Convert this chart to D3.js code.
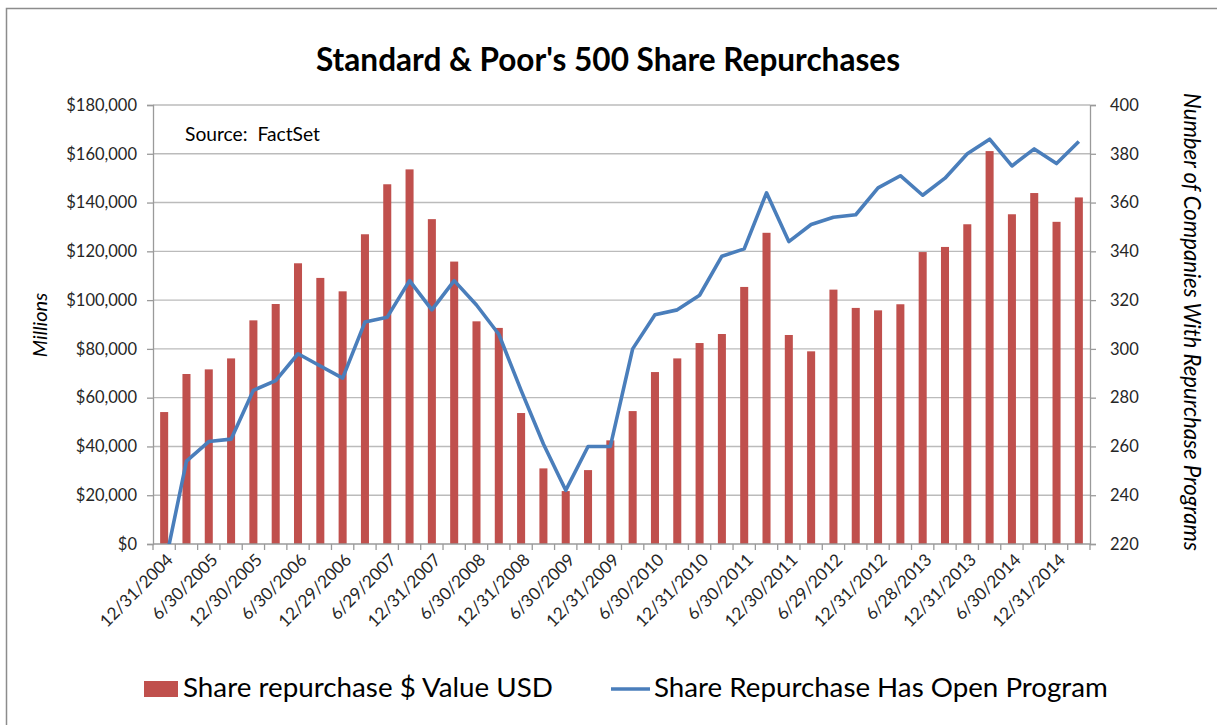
<!DOCTYPE html>
<html>
<head>
<meta charset="utf-8">
<script src="https://cdn.jsdelivr.net/npm/d3@7"></script>
<style>
  html, body { margin: 0; padding: 0; background: #fff; }
  svg { display: block; font-family: Lato, "Open Sans", sans-serif; }
</style>
</head>
<body>
<svg id="chart" width="1217" height="725"></svg>
<script>
// ---------- data ----------
const categories = [
  "12/31/2004","3/31/2005","6/30/2005","9/30/2005","12/30/2005","3/31/2006","6/30/2006","9/29/2006",
  "12/29/2006","3/30/2007","6/29/2007","9/28/2007","12/31/2007","3/31/2008","6/30/2008","9/30/2008",
  "12/31/2008","3/31/2009","6/30/2009","9/30/2009","12/31/2009","3/31/2010","6/30/2010","9/30/2010",
  "12/31/2010","3/31/2011","6/30/2011","9/30/2011","12/30/2011","3/30/2012","6/29/2012","9/28/2012",
  "12/31/2012","3/28/2013","6/28/2013","9/30/2013","12/31/2013","3/31/2014","6/30/2014","9/30/2014",
  "12/31/2014","3/31/2015"
];
const tickLabels = [
  "12/31/2004","6/30/2005","12/30/2005","6/30/2006","12/29/2006","6/29/2007","12/31/2007",
  "6/30/2008","12/31/2008","6/30/2009","12/31/2009","6/30/2010","12/31/2010","6/30/2011",
  "12/30/2011","6/29/2012","12/31/2012","6/28/2013","12/31/2013","6/30/2014","12/31/2014"
];
// Share repurchase $ value, USD millions
const repurchaseValue = [
  54100, 69700, 71600, 76100, 91700, 98400, 115100, 109100,
  103600, 127000, 147500, 153600, 133200, 115800, 91300, 88600,
  53700, 31000, 21700, 30300, 42500, 54500, 70500, 76100,
  82400, 86100, 105400, 127600, 85700, 79000, 104300, 96800,
  95800, 98300, 119700, 121800, 131100, 161100, 135200, 143900,
  132100, 142100
];
// Number of companies with an open repurchase program
const openPrograms = [
  210, 254, 262, 263, 283, 287, 298, 293,
  288, 311, 313, 328, 316, 328, 318, 306,
  283, 261, 242, 260, 260, 300, 314, 316,
  322, 338, 341, 364, 344, 351, 354, 355,
  366, 371, 363, 370, 380, 386, 375, 382,
  376, 385
];
const leftTicks = [0, 20000, 40000, 60000, 80000, 100000, 120000, 140000, 160000, 180000];
const rightTicks = [220, 240, 260, 280, 300, 320, 340, 360, 380, 400];

const titleText = "Standard & Poor's 500 Share Repurchases";
const barName = "Share repurchase $ Value USD";
const lineName = "Share Repurchase Has Open Program";

// ---------- layout ----------
const svg = d3.select("#chart");
const plot = { left: 153, right: 1090, top: 105, bottom: 544 };
const barColor = "#C0504D";
const lineColor = "#4A7EBB";
const gridColor = "#BBBBBB";
const axisColor = "#9A9A9A";
const textColor = "#262626";

function fitText(sel, target) {
  const node = sel.node();
  const fs = parseFloat(sel.attr("font-size"));
  const w = node.getComputedTextLength();
  sel.attr("font-size", (fs * target / w).toFixed(2));
  return sel;
}

// outer border
svg.append("rect").attr("x", 6.5).attr("y", 8.5).attr("width", 1230).attr("height", 730)
  .attr("fill", "none").attr("stroke", "#8C8C8C").attr("stroke-width", 1.5);

const x = d3.scaleBand().domain(categories)
  .range([plot.left, plot.right]).paddingInner(0.64).paddingOuter(0.32);
const step = x.step();
const yL = d3.scaleLinear().domain([0, 180000]).range([plot.bottom, plot.top]);
const yR = d3.scaleLinear().domain([220, 400]).range([plot.bottom, plot.top]);

// gridlines
svg.append("g").selectAll("line").data(leftTicks.slice(1)).join("line")
  .attr("x1", plot.left).attr("x2", plot.right)
  .attr("y1", d => yL(d)).attr("y2", d => yL(d))
  .attr("stroke", gridColor).attr("stroke-width", 1.4);

// bars
svg.append("g").selectAll("rect").data(repurchaseValue).join("rect")
  .attr("x", (d, i) => x(categories[i]))
  .attr("width", x.bandwidth())
  .attr("y", d => yL(d))
  .attr("height", d => yL(0) - yL(d))
  .attr("fill", barColor);

// left axis
const leftAxis = d3.axisLeft(yL).tickValues(leftTicks).tickSize(6).tickPadding(10)
  .tickFormat(d => "$" + d3.format(",")(d));
const gL = svg.append("g").attr("transform", `translate(${plot.left},0)`).call(leftAxis);
gL.select(".domain").attr("stroke", axisColor).attr("stroke-width", 1.3);
gL.selectAll(".tick line").attr("stroke", axisColor).attr("stroke-width", 1.3);
gL.selectAll(".tick text").attr("font-size", 16.5).attr("fill", textColor)
  .attr("font-family", "Lato, sans-serif");

// right axis
const rightAxis = d3.axisRight(yR).tickValues(rightTicks).tickSize(6).tickPadding(14);
const gR = svg.append("g").attr("transform", `translate(${plot.right},0)`).call(rightAxis);
gR.select(".domain").attr("stroke", axisColor).attr("stroke-width", 1.3);
gR.selectAll(".tick line").attr("stroke", axisColor).attr("stroke-width", 1.3);
gR.selectAll(".tick text").attr("font-size", 16.5).attr("fill", textColor)
  .attr("font-family", "Lato, sans-serif");

// bottom axis: tick marks between categories
const boundaries = d3.range(categories.length + 1).map(i => plot.left + i * step);
const gB = svg.append("g");
gB.append("line").attr("x1", plot.left).attr("x2", plot.right)
  .attr("y1", plot.bottom).attr("y2", plot.bottom)
  .attr("stroke", axisColor).attr("stroke-width", 1.3);
gB.selectAll("line.tk").data(boundaries).join("line").attr("class", "tk")
  .attr("x1", d => d).attr("x2", d => d)
  .attr("y1", plot.bottom).attr("y2", plot.bottom + 6)
  .attr("stroke", axisColor).attr("stroke-width", 1.3);
const xLabels = gB.selectAll("text").data(tickLabels).join("text")
  .attr("transform", d => `translate(${x(d) + x.bandwidth() / 2 + 10},${plot.bottom + 17}) rotate(-45)`)
  .attr("text-anchor", "end").attr("font-size", 16).attr("fill", textColor)
  .text(d => d);
{
  const w = xLabels.filter((d, i) => i === 0).node().getComputedTextLength();
  xLabels.attr("font-size", (16 * 95 / w).toFixed(2));
}

// line series, clipped to plot area
svg.append("clipPath").attr("id", "plotclip").append("rect")
  .attr("x", plot.left).attr("y", plot.top - 5)
  .attr("width", plot.right - plot.left).attr("height", plot.bottom - plot.top + 5);
const line = d3.line()
  .x((d, i) => x(categories[i]) + x.bandwidth() / 2)
  .y(d => yR(d));
svg.append("path").datum(openPrograms)
  .attr("clip-path", "url(#plotclip)")
  .attr("d", line).attr("fill", "none")
  .attr("stroke", lineColor).attr("stroke-width", 3.6)
  .attr("stroke-linejoin", "round");

// title
fitText(svg.append("text").attr("x", 608).attr("y", 71).attr("text-anchor", "middle")
  .attr("font-weight", "bold").attr("font-size", 30).attr("fill", "#000")
  .text(titleText), 584);

// source note
fitText(svg.append("text").attr("x", 185).attr("y", 141)
  .attr("font-size", 17).attr("fill", "#000").attr("xml:space", "preserve")
  .style("white-space", "pre")
  .text("Source:  FactSet"), 135);

// axis titles
svg.append("text").attr("transform", "translate(47,325) rotate(-90)")
  .attr("text-anchor", "middle").attr("font-style", "italic")
  .attr("font-size", 20).attr("fill", "#000").text("Millions");
fitText(svg.append("text").attr("transform", "translate(1184,322) rotate(90)")
  .attr("text-anchor", "middle").attr("font-style", "italic")
  .attr("font-size", 18).attr("fill", "#000")
  .text("Number of Companies With Repurchase Programs"), 458);

// legend
const lg = svg.append("g");
lg.append("rect").attr("x", 144).attr("y", 681).attr("width", 34).attr("height", 16)
  .attr("fill", barColor);
fitText(lg.append("text").attr("x", 183).attr("y", 697).attr("font-size", 25)
  .attr("fill", "#000").text(barName), 370);
lg.append("line").attr("x1", 611).attr("x2", 650).attr("y1", 689).attr("y2", 689)
  .attr("stroke", lineColor).attr("stroke-width", 3.6);
fitText(lg.append("text").attr("x", 654).attr("y", 697).attr("font-size", 25)
  .attr("fill", "#000").text(lineName), 454);
</script>
</body>
</html>
